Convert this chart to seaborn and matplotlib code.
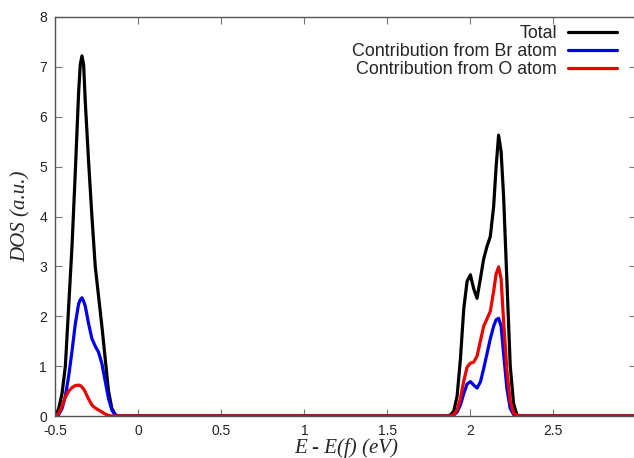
import pandas as pd
import matplotlib
matplotlib.use('Agg')
import matplotlib.pyplot as plt
import seaborn as sns

# energy grid (eV), two bands plus flat zero stretches
energy = [-0.50, -0.48, -0.46, -0.44, -0.42, -0.40, -0.38, -0.36, -0.35, -0.34,
          -0.33, -0.32, -0.30, -0.28, -0.26, -0.24, -0.22, -0.20, -0.18, -0.16,
          -0.14, -0.12,
          1.86, 1.88, 1.90, 1.92, 1.94, 1.96, 1.98, 2.00, 2.02, 2.04,
          2.06, 2.08, 2.10, 2.12, 2.14, 2.155, 2.17, 2.185, 2.20, 2.22,
          2.24, 2.26, 2.28, 2.30, 3.00]

dos_total = [0.0, 0.15, 0.45, 1.0, 2.2, 3.4, 4.9, 6.5, 7.05, 7.22,
             7.05, 6.3, 5.1, 4.0, 3.0, 2.4, 1.8, 1.15, 0.5, 0.15,
             0.03, 0.0,
             0.0, 0.02, 0.1, 0.4, 1.15, 2.15, 2.7, 2.83, 2.55, 2.36,
             2.75, 3.15, 3.4, 3.6, 4.2, 5.0, 5.63, 5.3, 4.4, 2.7,
             1.0, 0.25, 0.02, 0.0, 0.0]

dos_br = [0.0, 0.03, 0.15, 0.4, 0.8, 1.3, 1.85, 2.25, 2.33, 2.37,
          2.3, 2.2, 1.85, 1.55, 1.4, 1.28, 1.05, 0.7, 0.35, 0.12,
          0.02, 0.0,
          0.0, 0.0, 0.02, 0.08, 0.22, 0.45, 0.64, 0.69, 0.62, 0.56,
          0.68, 0.95, 1.25, 1.55, 1.8, 1.93, 1.96, 1.8, 1.25, 0.55,
          0.15, 0.03, 0.0, 0.0, 0.0]

dos_o = [0.0, 0.05, 0.2, 0.38, 0.5, 0.57, 0.61, 0.62, 0.61, 0.58,
         0.54, 0.48, 0.34, 0.22, 0.16, 0.12, 0.08, 0.04, 0.01, 0.0,
         0.0, 0.0,
         0.0, 0.0, 0.03, 0.12, 0.35, 0.7, 0.98, 1.06, 1.08, 1.2,
         1.5, 1.8, 1.95, 2.1, 2.5, 2.85, 2.99, 2.75, 1.9, 0.9,
         0.3, 0.06, 0.01, 0.0, 0.0]

labels = ['Total', 'Contribution from Br atom', 'Contribution from O atom']
colors = ['#000000', '#0000ee', '#ee0000']
x_ticks = [-0.5, 0, 0.5, 1, 1.5, 2, 2.5]
x_tick_labels = ['-0.5', '0', '0.5', '1', '1.5', '2', '2.5']
y_ticks = [0, 1, 2, 3, 4, 5, 6, 7, 8]

frames = []
for lab, vals in zip(labels, [dos_total, dos_br, dos_o]):
    frames.append(pd.DataFrame({'E': energy, 'DOS': vals, 'series': lab}))
df = pd.concat(frames, ignore_index=True)

sns.set_style('ticks')
plt.rcParams['font.family'] = ['Liberation Sans', 'DejaVu Sans']

fig = plt.figure(figsize=(6.34, 4.58), dpi=100)
ax = fig.add_axes([55.4 / 634, 42 / 458, 581 / 634, 399 / 458])

sns.lineplot(data=df, x='E', y='DOS', hue='series', hue_order=labels,
             palette=colors, linewidth=2.3, sort=False, ax=ax)

ax.set_xlim(-0.5, 3.0)
ax.set_ylim(0, 8)
ax.set_xticks(x_ticks)
ax.set_xticklabels(x_tick_labels)
ax.set_yticks(y_ticks)
ax.tick_params(direction='in', length=5, width=0.8, color='#777777',
               labelsize=10, labelcolor='#222222', top=True, right=True, pad=6)
for sp in ax.spines.values():
    sp.set_visible(True)
    sp.set_color('#555555')
    sp.set_linewidth(1.0)

lab_font = dict(family=['Liberation Serif', 'DejaVu Serif'], style='italic', size=15)
ax.set_xlabel('E - E(f) (eV)', fontdict=lab_font, labelpad=0)
ax.set_ylabel('DOS (a.u.)', fontdict=lab_font, labelpad=6)

handles, _ = ax.get_legend_handles_labels()
ax.legend(handles=handles, labels=labels, loc='upper right',
          bbox_to_anchor=(617 / 634, 1 - 25 / 458), bbox_transform=fig.transFigure,
          frameon=False, markerfirst=False, fontsize=12.9, handlelength=2.74,
          handletextpad=0.62, labelspacing=0.05, borderpad=0, borderaxespad=0)

fig.savefig('out.png', dpi=100)
